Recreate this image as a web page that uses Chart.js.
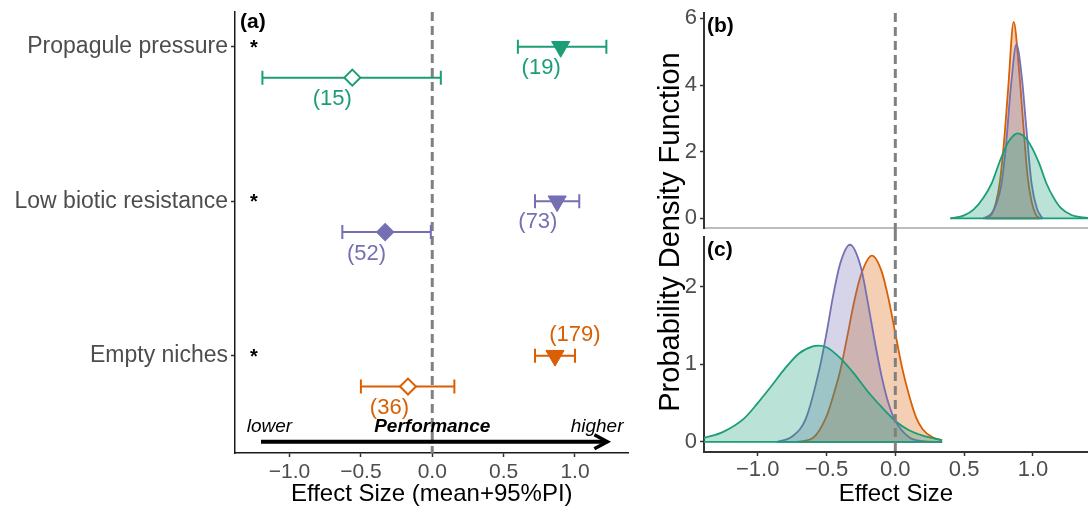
<!DOCTYPE html>
<html>
<head>
<meta charset="utf-8">
<script src="https://cdn.jsdelivr.net/npm/chart.js@4.4.0/dist/chart.umd.min.js"></script>
<style>
  body { margin: 0; background: #fff; }
  #wrap { position: relative; width: 1088px; height: 512px; overflow: hidden; font-family: 'Liberation Sans', Arial, sans-serif; }
  canvas { position: absolute; }
  #ytitle { position: absolute; left: 469px; top: 215px; width: 400px; text-align: center; font-size: 29px; line-height: 34px; color: #000; transform: rotate(-90deg); }
</style>
</head>
<body>
<div id="wrap">
  <canvas id="chartA" width="640" height="512" style="left:0;top:0"></canvas>
  <canvas id="chartB" width="448" height="232" style="left:640px;top:0"></canvas>
  <canvas id="chartC" width="448" height="280" style="left:640px;top:232px"></canvas>
  <div id="ytitle">Probability Density Function</div>
</div>
<script>
// panel (a): effect sizes with 95% PI
const categories = ['Propagule pressure', 'Low biotic resistance', 'Empty niches'];
const catColors = ['#1b9e77', '#7570b3', '#d95f02'];
const triMean = [0.90, 0.875, 0.86];
const triLow = [0.60, 0.72, 0.72];
const triHigh = [1.22, 1.03, 1.00];
const triN = [19, 73, 179];
const diaMean = [-0.56, -0.33, -0.17];
const diaLow = [-1.19, -0.63, -0.50];
const diaHigh = [0.06, -0.01, 0.155];
const diaN = [15, 52, 36];
const diaFilled = [false, true, false];
const xTicks = [-1, -0.5, 0, 0.5, 1];

// panel (b) densities
const bGreenX = [0.40, 0.50, 0.57, 0.64, 0.70, 0.76, 0.82, 0.89, 0.96, 1.04, 1.10, 1.15, 1.20, 1.28, 1.40];
const bGreenY = [0.00, 0.09, 0.27, 0.62, 1.05, 1.72, 2.28, 2.55, 2.34, 1.70, 1.03, 0.62, 0.32, 0.10, 0.01];
const bPurpleX = [0.64, 0.70, 0.74, 0.77, 0.80, 0.84, 0.88, 0.92, 0.95, 0.99, 1.03, 1.07];
const bPurpleY = [0.00, 0.15, 0.50, 1.00, 2.00, 3.95, 5.22, 4.20, 2.80, 1.05, 0.28, 0.00];
const bOrangeX = [0.66, 0.70, 0.73, 0.76, 0.79, 0.82, 0.86, 0.90, 0.93, 0.96, 0.99, 1.02, 1.05];
const bOrangeY = [0.00, 0.12, 0.45, 1.10, 2.30, 3.90, 5.89, 4.40, 2.80, 1.30, 0.50, 0.12, 0.00];
const bTicks = [0, 2, 4, 6];

// panel (c) densities
const cGreenX = [-1.39, -1.25, -1.10, -1.00, -0.90, -0.80, -0.70, -0.60, -0.56, -0.50, -0.40, -0.30, -0.20, -0.10, 0.00, 0.10, 0.20, 0.34];
const cGreenY = [0.05, 0.13, 0.30, 0.50, 0.72, 0.95, 1.14, 1.23, 1.24, 1.22, 1.08, 0.88, 0.65, 0.45, 0.27, 0.15, 0.08, 0.02];
const cPurpleX = [-0.86, -0.75, -0.65, -0.55, -0.50, -0.45, -0.40, -0.33, -0.25, -0.20, -0.15, -0.10, -0.05, 0.00, 0.10, 0.20, 0.34];
const cPurpleY = [0.00, 0.07, 0.30, 0.95, 1.40, 1.90, 2.30, 2.54, 2.25, 1.80, 1.30, 0.85, 0.50, 0.27, 0.06, 0.01, 0.00];
const cOrangeX = [-0.72, -0.60, -0.50, -0.45, -0.40, -0.35, -0.30, -0.25, -0.17, -0.10, -0.05, 0.00, 0.05, 0.10, 0.15, 0.20, 0.27, 0.34];
const cOrangeY = [0.00, 0.05, 0.33, 0.60, 0.92, 1.35, 1.80, 2.15, 2.40, 2.20, 1.85, 1.40, 0.95, 0.60, 0.32, 0.16, 0.06, 0.02];
const cTicks = [0, 1, 2];

// layout helpers (not data)
const dodge = 0.2;
const triNudgeX = [-0.137, -0.135, 0.14];
const triNudgeY = [-0.14, -0.135, 0.135];
const diaNudgeX = [-0.14, -0.13, -0.13];
const diaNudgeY = [-0.14, -0.14, -0.14];

const FONT = "'Liberation Sans', Arial, sans-serif";
Chart.defaults.font.family = FONT;

const fmt = v => (v === 0 ? '0.0' : (v < 0 ? '\u2212' : '') + Math.abs(v).toFixed(1));
const yPos = i => 3 - i;

// fixed axis box size, no extra padding for overhanging labels
function fixBox(w, h) {
    return s => {
        if (w != null) s.width = w;
        if (h != null) s.height = h;
        s.paddingTop = 0; s.paddingBottom = 0; s.paddingLeft = 0; s.paddingRight = 0;
    };
}

function errorBar(ctx, x, y, lo, hi, yv, color) {
    const py = y.getPixelForValue(yv);
    const x1 = x.getPixelForValue(lo);
    const x2 = x.getPixelForValue(hi);
    ctx.strokeStyle = color;
    ctx.beginPath();
    ctx.moveTo(x1, py); ctx.lineTo(x2, py);
    ctx.moveTo(x1, py - 7); ctx.lineTo(x1, py + 7);
    ctx.moveTo(x2, py - 7); ctx.lineTo(x2, py + 7);
    ctx.stroke();
}

function zeroLine(ctx, x, top, bottom) {
    const x0 = x.getPixelForValue(0);
    ctx.save();
    ctx.strokeStyle = '#808080';
    ctx.lineWidth = 3;
    ctx.setLineDash([9, 5]);
    ctx.beginPath();
    ctx.moveTo(x0, top);
    ctx.lineTo(x0, bottom);
    ctx.stroke();
    ctx.restore();
}

const panelA = {
    id: 'panelA',
    beforeDatasetsDraw(chart) {
        const { ctx, chartArea, scales: { x, y } } = chart;
        zeroLine(ctx, x, chartArea.top, chartArea.bottom);
        ctx.save();
        ctx.lineWidth = 2;
        categories.forEach((c, i) => {
            errorBar(ctx, x, y, triLow[i], triHigh[i], yPos(i), catColors[i]);
            errorBar(ctx, x, y, diaLow[i], diaHigh[i], yPos(i) - dodge, catColors[i]);
        });
        ctx.restore();
    },
    afterDatasetsDraw(chart) {
        const { ctx, chartArea, scales: { x, y } } = chart;
        ctx.save();
        // sample sizes
        ctx.textAlign = 'center';
        ctx.textBaseline = 'middle';
        ctx.font = '22px ' + FONT;
        categories.forEach((c, i) => {
            ctx.fillStyle = catColors[i];
            ctx.fillText('(' + triN[i] + ')', x.getPixelForValue(triMean[i] + triNudgeX[i]), y.getPixelForValue(yPos(i) + triNudgeY[i]));
            ctx.fillText('(' + diaN[i] + ')', x.getPixelForValue(diaMean[i] + diaNudgeX[i]), y.getPixelForValue(yPos(i) - dodge + diaNudgeY[i]));
        });
        // asterisks
        ctx.fillStyle = '#000';
        ctx.font = 'bold 20px ' + FONT;
        ctx.textBaseline = 'alphabetic';
        categories.forEach((c, i) => {
            ctx.fillText('*', x.getPixelForValue(-1.25), y.getPixelForValue(yPos(i)) + 7);
        });
        // performance arrow
        const ay = y.getPixelForValue(0.443);
        const ax1 = x.getPixelForValue(-1.20);
        const ax2 = x.getPixelForValue(1.227);
        ctx.strokeStyle = '#000';
        ctx.lineWidth = 4;
        ctx.beginPath();
        ctx.moveTo(ax1, ay);
        ctx.lineTo(ax2 - 2, ay);
        ctx.stroke();
        ctx.lineWidth = 3.5;
        ctx.lineJoin = 'miter';
        ctx.beginPath();
        ctx.moveTo(ax2 - 13, ay - 7);
        ctx.lineTo(ax2, ay);
        ctx.lineTo(ax2 - 13, ay + 7);
        ctx.stroke();
        const ty = y.getPixelForValue(0.537);
        ctx.textBaseline = 'middle';
        ctx.font = 'italic 19px ' + FONT;
        ctx.textAlign = 'left';
        ctx.fillText('lower', x.getPixelForValue(-1.30), ty);
        ctx.textAlign = 'right';
        ctx.fillText('higher', x.getPixelForValue(1.34), ty);
        ctx.textAlign = 'center';
        ctx.font = 'italic bold 19px ' + FONT;
        ctx.fillText('Performance', x.getPixelForValue(0), ty);
        // panel tag
        ctx.textAlign = 'left';
        ctx.font = 'bold 21px ' + FONT;
        ctx.fillText('(a)', chartArea.left + 5, 22);
        ctx.restore();
    }
};

function densityPlugin(tag, lineTop, lineBottom) {
    return {
        id: 'dens' + tag,
        afterDatasetsDraw(chart) {
            const { ctx, chartArea, scales: { x, y } } = chart;
            ctx.save();
            ctx.beginPath();
            ctx.rect(chartArea.left, 0, chartArea.right - chartArea.left, chart.height);
            ctx.clip();
            // baseline part of each density outline, bottom dataset first
            const ds = chart.data.datasets;
            for (let i = ds.length - 1; i >= 0; i--) {
                const pts = ds[i].data;
                ctx.strokeStyle = ds[i].borderColor;
                ctx.lineWidth = ds[i].borderWidth;
                ctx.beginPath();
                ctx.moveTo(x.getPixelForValue(pts[0].x), y.getPixelForValue(0));
                ctx.lineTo(x.getPixelForValue(pts[pts.length - 1].x), y.getPixelForValue(0));
                ctx.stroke();
            }
            ctx.restore();
            zeroLine(ctx, x, lineTop(chartArea, chart), lineBottom(chartArea, chart));
            ctx.save();
            ctx.fillStyle = '#000';
            ctx.font = 'bold 21px ' + FONT;
            ctx.textBaseline = 'middle';
            ctx.fillText(tag, chartArea.left + 3, chartArea.top + 13);
            ctx.restore();
        }
    };
}

function densSet(xs, ys, color, fill) {
    return {
        data: xs.map((v, i) => ({ x: v, y: ys[i] })),
        borderColor: color,
        backgroundColor: fill,
        borderWidth: 1.8,
        fill: 'origin',
        pointRadius: 0,
        cubicInterpolationMode: 'monotone'
    };
}

const tickGrid = { display: true, drawOnChartArea: false, drawTicks: true, tickLength: 4, tickColor: '#333', tickWidth: 1.5 };

new Chart(document.getElementById('chartA'), {
    type: 'scatter',
    data: {
        datasets: [
            {
                data: triMean.map((m, i) => ({ x: m, y: yPos(i) })),
                pointStyle: 'triangle',
                pointRotation: 180,
                pointRadius: 10.5,
                pointBackgroundColor: catColors,
                pointBorderColor: catColors,
                pointBorderWidth: 1
            },
            {
                data: diaMean.map((m, i) => ({ x: m, y: yPos(i) - dodge })),
                pointStyle: 'rectRot',
                pointRadius: 8,
                pointBackgroundColor: catColors.map((c, i) => (diaFilled[i] ? c : '#fff')),
                pointBorderColor: catColors,
                pointBorderWidth: 2
            }
        ]
    },
    options: {
        responsive: false,
        animation: false,
        events: [],
        devicePixelRatio: 1,
        layout: { padding: { left: 0, top: 12, right: 9, bottom: 0 } },
        plugins: { legend: { display: false }, tooltip: { enabled: false } },
        scales: {
            x: {
                type: 'linear', min: -1.382, max: 1.375,
                afterBuildTicks: s => { s.ticks = xTicks.map(v => ({ value: v })); },
                afterFit: fixBox(null, 59),
                ticks: { callback: fmt, color: '#4d4d4d', font: { size: 21 }, padding: 3, maxRotation: 0, autoSkip: false },
                grid: tickGrid,
                border: { color: '#1a1a1a', width: 1.5 },
                title: { display: true, text: 'Effect Size (mean+95%PI)', color: '#000', font: { size: 24 }, padding: { top: 0, bottom: 3 } }
            },
            y: {
                type: 'linear', min: 0.37, max: 3.225,
                afterBuildTicks: s => { s.ticks = categories.map((c, i) => ({ value: yPos(i) })); },
                afterFit: fixBox(235, null),
                ticks: { callback: v => categories[3 - Math.round(v)], color: '#4d4d4d', font: { size: 23 }, padding: 3, autoSkip: false },
                grid: tickGrid,
                border: { color: '#1a1a1a', width: 1.5 }
            }
        }
    },
    plugins: [panelA]
});

new Chart(document.getElementById('chartB'), {
    type: 'line',
    data: {
        datasets: [
            densSet(bGreenX, bGreenY, '#1b9e77', 'rgba(27,158,119,0.3)'),
            densSet(bPurpleX, bPurpleY, '#7570b3', 'rgba(117,112,179,0.3)'),
            densSet(bOrangeX, bOrangeY, '#d95f02', 'rgba(217,95,2,0.3)')
        ]
    },
    options: {
        responsive: false,
        animation: false,
        events: [],
        devicePixelRatio: 1,
        layout: { padding: { left: 0, top: 13, right: 0, bottom: 0 } },
        plugins: { legend: { display: false }, tooltip: { enabled: false } },
        scales: {
            x: {
                type: 'linear', min: -1.39, max: 1.40,
                afterFit: fixBox(null, 4),
                ticks: { display: false },
                grid: { display: false },
                border: { color: '#bdbdbd', width: 2 }
            },
            y: {
                type: 'linear', min: -0.29, max: 6.16,
                afterBuildTicks: s => { s.ticks = bTicks.map(v => ({ value: v })); },
                afterFit: fixBox(64, null),
                ticks: { color: '#4d4d4d', font: { size: 22 }, padding: 3 },
                grid: tickGrid,
                border: { color: '#333', width: 2 }
            }
        }
    },
    plugins: [densityPlugin('(b)', ca => ca.top, (ca, ch) => ch.height)]
});

new Chart(document.getElementById('chartC'), {
    type: 'line',
    data: {
        datasets: [
            densSet(cGreenX, cGreenY, '#1b9e77', 'rgba(27,158,119,0.3)'),
            densSet(cPurpleX, cPurpleY, '#7570b3', 'rgba(117,112,179,0.3)'),
            densSet(cOrangeX, cOrangeY, '#d95f02', 'rgba(217,95,2,0.3)')
        ]
    },
    options: {
        responsive: false,
        animation: false,
        events: [],
        devicePixelRatio: 1,
        layout: { padding: { left: 0, top: 5, right: 0, bottom: 0 } },
        plugins: { legend: { display: false }, tooltip: { enabled: false } },
        scales: {
            x: {
                type: 'linear', min: -1.39, max: 1.40,
                afterBuildTicks: s => { s.ticks = xTicks.map(v => ({ value: v })); },
                afterFit: fixBox(null, 60),
                ticks: { callback: fmt, color: '#4d4d4d', font: { size: 22 }, padding: 1, maxRotation: 0, autoSkip: false },
                grid: tickGrid,
                border: { color: '#333', width: 2 },
                title: { display: true, text: 'Effect Size', color: '#000', font: { size: 24 }, padding: { top: 0, bottom: 3 } }
            },
            y: {
                type: 'linear', min: -0.13, max: 2.64,
                afterBuildTicks: s => { s.ticks = cTicks.map(v => ({ value: v })); },
                afterFit: fixBox(64, null),
                ticks: { color: '#4d4d4d', font: { size: 22 }, padding: 3 },
                grid: tickGrid,
                border: { color: '#333', width: 2 }
            }
        }
    },
    plugins: [densityPlugin('(c)', () => 0, ca => ca.bottom)]
});
</script>
</body>
</html>
